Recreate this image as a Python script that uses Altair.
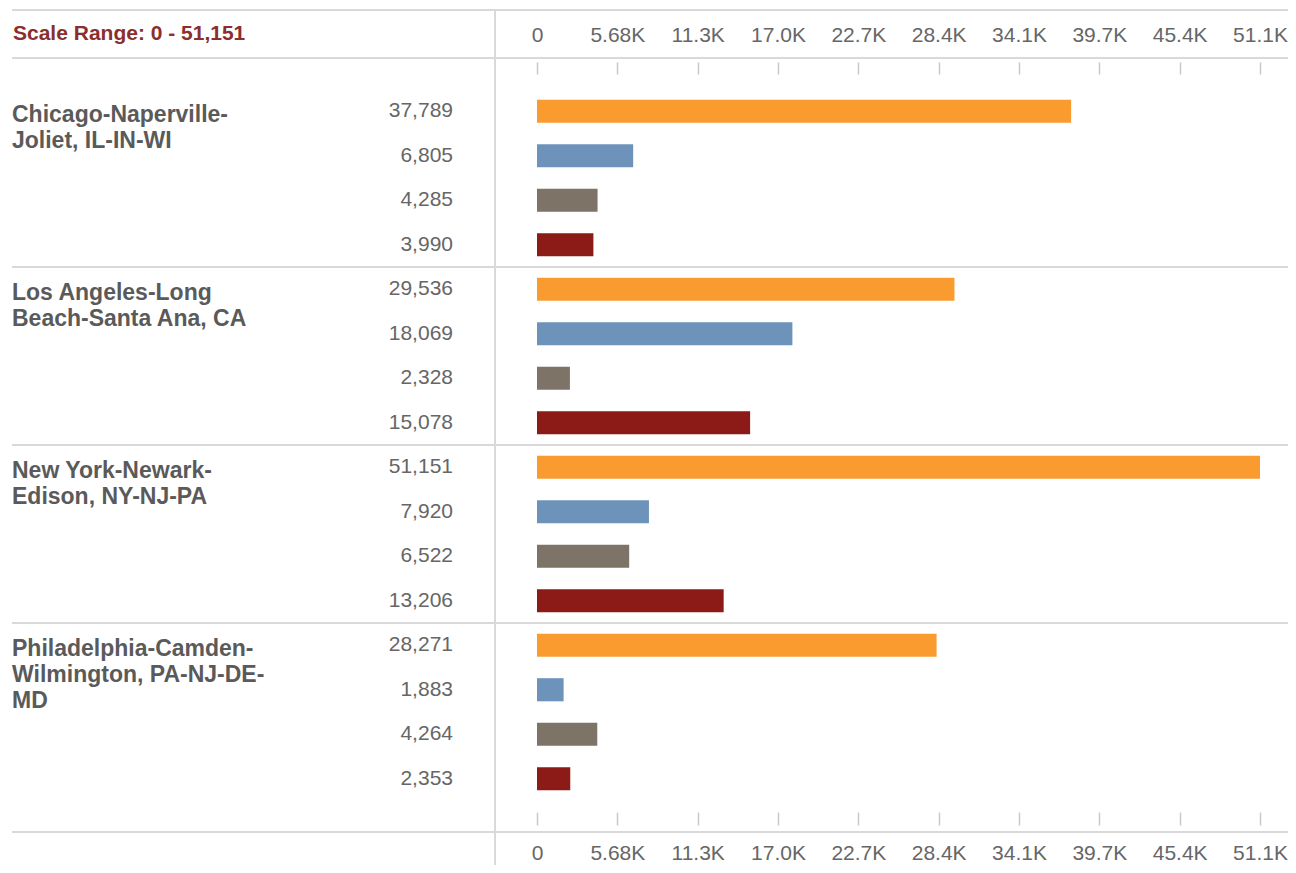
import json
import altair as alt
import pandas as pd

# ---------------- data ----------------
metros = [
    "Chicago-Naperville-\nJoliet, IL-IN-WI",
    "Los Angeles-Long\nBeach-Santa Ana, CA",
    "New York-Newark-\nEdison, NY-NJ-PA",
    "Philadelphia-Camden-\nWilmington, PA-NJ-DE-\nMD",
]
series = ["Measure 1", "Measure 2", "Measure 3", "Measure 4"]
chicago = [37789, 6805, 4285, 3990]
los_angeles = [29536, 18069, 2328, 15078]
new_york = [51151, 7920, 6522, 13206]
philadelphia = [28271, 1883, 4264, 2353]
colors = ["#F99B2F", "#6E93BA", "#7D7366", "#8C1A16"]
tick_values = [0, 5683, 11367, 17050, 22734, 28417, 34101, 39784, 45468, 51151]
tick_labels = ["0", "5.68K", "11.3K", "17.0K", "22.7K", "28.4K", "34.1K", "39.7K", "45.4K", "51.1K"]
scale_max = 51151

# ---------------- tables ----------------
all_values = [chicago, los_angeles, new_york, philadelphia]
rows = []
for g, (metro, vals) in enumerate(zip(metros, all_values)):
    for s, (ser, v) in enumerate(zip(series, vals)):
        r = g * len(series) + s
        rows.append({"metro": metro, "series": ser, "value": v, "zero": 0,
                     "y0": r + 0.24, "y1": r + 0.76, "yc": r + 0.5})
bars_df = pd.DataFrame(rows)
n_rows = len(rows)
names_df = pd.DataFrame({"metro": metros, "gtop": [g * len(series) for g in range(len(metros))]})
sep_df = pd.DataFrame({"b": [g * len(series) for g in range(1, len(metros))]})
ticks_df = pd.DataFrame({"tick": tick_values})
title_df = pd.DataFrame({"label": [f"Scale Range: 0 - {scale_max:,}"]})
one = pd.DataFrame({"k": [0]})

FONT = "Liberation Sans"
GRID = "#D9D9D9"

xscale = alt.Scale(domain=[0, scale_max], range=[529, 1252], nice=False, zero=False)
yscale = alt.Scale(domain=[0, n_rows], range=[15, 727], nice=False, zero=False)

label_expr = f"{json.dumps(tick_labels)}[indexof({json.dumps(tick_values)}, datum.value)]"

def make_axis(orient, tick_size, pad):
    return alt.Axis(orient=orient, values=tick_values, labelExpr=label_expr, title=None,
                    domain=False, grid=False, ticks=True, tickSize=tick_size,
                    tickColor="#C8C8C8", tickWidth=1.5, labelFont=FONT, labelFontSize=21,
                    labelColor="#666666", labelPadding=pad, labelFlush=False,
                    labelOverlap=False)

# frame lines
hlines = alt.layer(*[
    alt.Chart(one).mark_rule(color=GRID, strokeWidth=2).encode(
        x=alt.value(4), x2=alt.value(1280), y=alt.value(yv))
    for yv in (-64, -16, 758)
])
vline = alt.Chart(one).mark_rule(color=GRID, strokeWidth=2).encode(
    x=alt.value(487), y=alt.value(-64), y2=alt.value(800))
seps = alt.Chart(sep_df).mark_rule(color=GRID, strokeWidth=2).encode(
    x=alt.value(4), x2=alt.value(1280), y=alt.Y("b:Q", scale=yscale, axis=None))

bars = alt.Chart(bars_df).mark_rect().encode(
    x=alt.X("zero:Q", scale=xscale, axis=make_axis("top", 12, 17)),
    x2="value:Q",
    y=alt.Y("y0:Q", scale=yscale, axis=None),
    y2="y1:Q",
    color=alt.Color("series:N", scale=alt.Scale(domain=series, range=colors), legend=None),
)

bottom_axis = alt.Chart(ticks_df).mark_point(opacity=0).encode(
    x=alt.X("tick:Q", scale=xscale, axis=make_axis("bottom", 13, 17)),
    y=alt.value(0),
)

values_txt = alt.Chart(bars_df).mark_text(
    align="right", baseline="middle", font=FONT, fontSize=21, color="#666666"
).encode(
    x=alt.value(445),
    y=alt.Y("yc:Q", scale=yscale, axis=None),
    text=alt.Text("value:Q", format=","),
)

names_txt = alt.Chart(names_df).mark_text(
    align="left", baseline="top", lineBreak="\n", lineHeight=26, font=FONT,
    fontSize=23, fontWeight="bold", color="#5A5A5A", dy=15
).encode(
    x=alt.value(4),
    y=alt.Y("gtop:Q", scale=yscale, axis=None),
    text="metro:N",
)

title_txt = alt.Chart(title_df).mark_text(
    align="left", baseline="middle", font=FONT, fontSize=21, fontWeight="bold",
    color="#8B2E2E"
).encode(x=alt.value(5), y=alt.value(-40), text="label:N")

chart = alt.layer(
    hlines, vline, seps, bars, bottom_axis, values_txt, names_txt, title_txt
).resolve_axis(x="independent").properties(
    width=1280, height=738,
    padding={"left": 0, "top": 66, "right": 0, "bottom": 53},
    autosize=alt.AutoSizeParams(type="none"),
).configure_view(stroke=None)

chart.save("out.html", embed_options={"renderer": "svg", "actions": False})
